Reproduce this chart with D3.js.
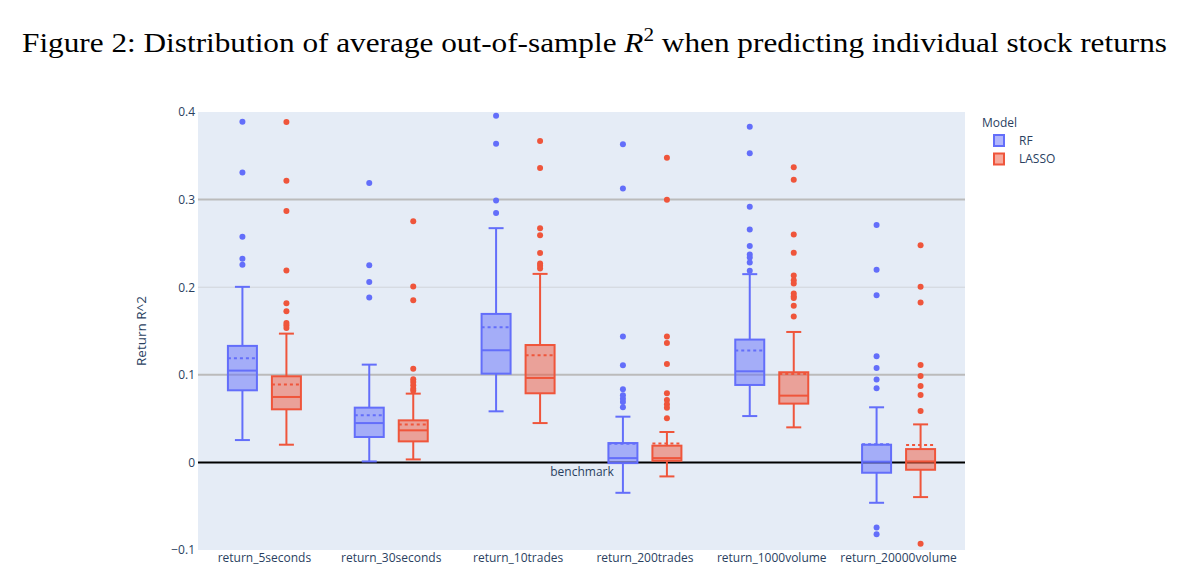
<!DOCTYPE html>
<html><head><meta charset="utf-8">
<script src="https://cdn.jsdelivr.net/npm/d3@7"></script>
<style>body{margin:0;background:#fff}svg{display:block}</style>
</head><body><svg id="c" width="1186" height="577"></svg>
<script>
const categories = ["return_5seconds","return_30seconds","return_10trades","return_200trades","return_1000volume","return_20000volume"];
const models = ["RF","LASSO"];
const yTicks = [-0.1, 0, 0.1, 0.2, 0.3, 0.4];

const rfLower  = [0.0255, 0.0011, 0.0583, -0.0347, 0.0529, -0.0461];
const rfQ1     = [0.0823, 0.029, 0.1013, -0.0008, 0.0884, -0.0118];
const rfMedian = [0.1048, 0.0449, 0.128, 0.0049, 0.104, 0.0008];
const rfMean   = [0.1189, 0.0537, 0.1543, 0.0212, 0.1276, 0.0208];
const rfQ3     = [0.133, 0.0625, 0.1695, 0.0221, 0.1402, 0.0202];
const rfUpper  = [0.2004, 0.1116, 0.2674, 0.0522, 0.2149, 0.0629];
const rfOutliers = [
  [0.389, 0.331, 0.2575, 0.2324, 0.2255],
  [0.3189, 0.2251, 0.206, 0.1882],
  [0.3958, 0.3638, 0.299, 0.2846],
  [0.3631, 0.3128, 0.1436, 0.1109, 0.0834, 0.0766, 0.0728, 0.0689, 0.0629],
  [0.3832, 0.3528, 0.2918, 0.2659, 0.2469, 0.2373, 0.2339, 0.2282, 0.2187],
  [0.2709, 0.2198, 0.1909, 0.1211, 0.1078, 0.0945, 0.0846, -0.0743, -0.0819]
];

const lassoLower  = [0.0202, 0.0034, 0.0449, -0.016, 0.04, -0.0396];
const lassoQ1     = [0.0606, 0.024, 0.0789, 0.0019, 0.0671, -0.0084];
const lassoMedian = [0.0747, 0.0366, 0.0964, 0.0049, 0.0762, 0.0011];
const lassoMean   = [0.0888, 0.0434, 0.1223, 0.0217, 0.1009, 0.0198];
const lassoQ3     = [0.0983, 0.048, 0.134, 0.0191, 0.1029, 0.0152];
const lassoUpper  = [0.147, 0.0785, 0.2152, 0.0347, 0.1489, 0.0434];
const lassoOutliers = [
  [0.3886, 0.3215, 0.2869, 0.219, 0.1817, 0.1726, 0.1592, 0.1566, 0.1535],
  [0.2754, 0.2008, 0.1851, 0.107, 0.0949, 0.0918, 0.088, 0.0842, 0.0819],
  [0.3669, 0.336, 0.2674, 0.2594, 0.2389, 0.227, 0.2244, 0.2213],
  [0.3478, 0.2998, 0.1436, 0.1364, 0.1124, 0.0789, 0.0712, 0.0663, 0.0625, 0.0503],
  [0.3368, 0.3227, 0.2602, 0.2392, 0.2133, 0.208, 0.2042, 0.1928, 0.1897, 0.1878, 0.1787, 0.1665],
  [0.248, 0.2004, 0.1825, 0.1112, 0.0987, 0.0872, 0.0769, 0.0587, -0.0929]
];

const series = [
  {name:"RF", color:"#636efa", fill:"rgba(99,110,250,0.5)", lower:rfLower, q1:rfQ1, med:rfMedian, mean:rfMean, q3:rfQ3, upper:rfUpper, out:rfOutliers},
  {name:"LASSO", color:"#ef553b", fill:"rgba(239,85,59,0.5)", lower:lassoLower, q1:lassoQ1, med:lassoMedian, mean:lassoMean, q3:lassoQ3, upper:lassoUpper, out:lassoOutliers}
];

const svg = d3.select("#c");
const P = {l:198, r:965, t:112, b:550};
const font = "'Open Sans', verdana, arial, sans-serif";
const txt = "#2a3f5f";

const x = d3.scaleBand().domain(categories).range([201, 962]);
const xm = d3.scaleBand().domain(models).range([-44, 44]).paddingInner(0).paddingOuter(0);
const y = d3.scaleLinear().domain([-0.1, 0.4]).range([P.b, P.t]);

// title
const title = svg.append("text").attr("x", 22).attr("y", 52)
  .attr("font-family", "'Liberation Serif', 'DejaVu Serif', serif").attr("font-size", 28)
  .attr("fill", "#000").attr("textLength", 1145).attr("lengthAdjust", "spacingAndGlyphs");
title.append("tspan").text("Figure 2: Distribution of average out-of-sample ");
title.append("tspan").attr("font-style", "italic").text("R");
title.append("tspan").attr("font-size", 19).attr("dy", -11).text("2");
title.append("tspan").attr("dy", 11).text(" when predicting individual stock returns");

// plot background
svg.append("rect").attr("x", P.l).attr("y", P.t).attr("width", P.r - P.l).attr("height", P.b - P.t).attr("fill", "#e5ecf6");

// gridline at 0.2
svg.append("line").attr("x1", P.l).attr("x2", P.r).attr("y1", y(0.2)).attr("y2", y(0.2))
  .attr("stroke", "#d0d4da").attr("stroke-width", 1);
// reference lines
[0.1, 0.3].forEach(v => {
  svg.append("line").attr("x1", P.l).attr("x2", P.r).attr("y1", y(v)).attr("y2", y(v))
    .attr("stroke", "#bbbbbb").attr("stroke-width", 2);
});
svg.append("line").attr("x1", P.l).attr("x2", P.r).attr("y1", y(0)).attr("y2", y(0))
  .attr("stroke", "#000").attr("stroke-width", 2);

// y axis
const yAxis = d3.axisLeft(y).tickValues(yTicks).tickSize(0).tickPadding(3)
  .tickFormat(d => d === 0 ? "0" : d3.format(".1f")(d).replace("-", "\u2212"));
const ga = svg.append("g").attr("transform", `translate(${P.l},0)`).call(yAxis);
ga.select(".domain").remove();
ga.selectAll("text").attr("font-family", font).attr("font-size", 12).attr("fill", txt);

// x axis
const xAxis = d3.axisBottom(x).tickSize(0).tickPadding(3);
const gx = svg.append("g").attr("transform", `translate(0,${P.b})`).call(xAxis);
gx.select(".domain").remove();
gx.selectAll("text").attr("font-family", font).attr("font-size", 12).attr("fill", txt);

// y title
svg.append("text").attr("transform", `translate(146,${(P.t + P.b) / 2}) rotate(-90)`)
  .attr("text-anchor", "middle").attr("font-family", font).attr("font-size", 13.5).attr("fill", txt)
  .text("Return R^2");

// boxes
const bw = 29, cw = 15;
series.forEach(s => {
  const g = svg.append("g");
  categories.forEach((c, i) => {
    const cx = x(c) + x.bandwidth() / 2 + xm(s.name) + xm.bandwidth() / 2;
    // whiskers
    g.append("line").attr("x1", cx).attr("x2", cx).attr("y1", y(s.q3)).attr("y2", y(s.upper[i]))
      .attr("y1", y(s.q3[i])).attr("stroke", s.color).attr("stroke-width", 2);
    g.append("line").attr("x1", cx).attr("x2", cx).attr("y1", y(s.q1[i])).attr("y2", y(s.lower[i]))
      .attr("stroke", s.color).attr("stroke-width", 2);
    [s.upper[i], s.lower[i]].forEach(v => {
      g.append("line").attr("x1", cx - cw / 2).attr("x2", cx + cw / 2).attr("y1", y(v)).attr("y2", y(v))
        .attr("stroke", s.color).attr("stroke-width", 2);
    });
    // box
    const top = y(Math.max(s.q1[i], s.q3[i])), bot = y(Math.min(s.q1[i], s.q3[i]));
    g.append("rect").attr("x", cx - bw / 2).attr("y", top).attr("width", bw).attr("height", bot - top)
      .attr("fill", s.fill).attr("stroke", s.color).attr("stroke-width", 2);
    g.append("line").attr("x1", cx - bw / 2).attr("x2", cx + bw / 2).attr("y1", y(s.med[i])).attr("y2", y(s.med[i]))
      .attr("stroke", s.color).attr("stroke-width", 2);
    g.append("line").attr("x1", cx - bw / 2).attr("x2", cx + bw / 2).attr("y1", y(s.mean[i])).attr("y2", y(s.mean[i]))
      .attr("stroke", s.color).attr("stroke-width", 2).attr("stroke-dasharray", "3,3");
    // outliers
    g.selectAll(null).data(s.out[i]).enter().append("circle")
      .attr("cx", cx).attr("cy", d => y(d)).attr("r", 3).attr("fill", s.color);
  });
});

// annotation
svg.append("text").attr("x", 582).attr("y", y(0) + 14).attr("text-anchor", "middle")
  .attr("font-family", font).attr("font-size", 12).attr("fill", txt).text("benchmark");

// legend
const lg = svg.append("g");
lg.append("text").attr("x", 982).attr("y", 127).attr("font-family", font).attr("font-size", 12).attr("fill", txt).text("Model");
series.forEach((s, k) => {
  const yy = 140.5 + k * 18.5;
  lg.append("rect").attr("x", 994).attr("y", yy - 5.5).attr("width", 10).attr("height", 11)
    .attr("fill", s.fill).attr("stroke", s.color).attr("stroke-width", 2);
  lg.append("text").attr("x", 1019).attr("y", yy + 4).attr("font-family", font).attr("font-size", 12)
    .attr("fill", txt).text(s.name);
});
</script>
</body></html>
